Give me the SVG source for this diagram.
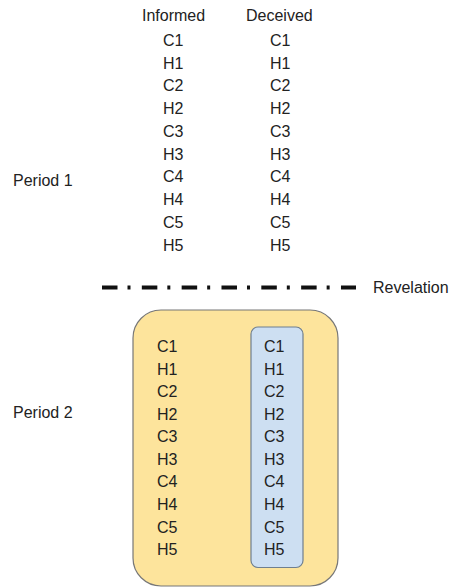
<svg xmlns="http://www.w3.org/2000/svg" width="450" height="588" viewBox="0 0 450 588">
<style>
text{font-family:"Liberation Sans",Arial,sans-serif;font-size:16px;fill:#222}
.outer{fill:#fde49c;stroke:#777;stroke-width:1.2}
.inner{fill:#cddff2;stroke:#6f7f8f;stroke-width:1.2}
.rev{stroke:#111;stroke-width:4;fill:none;stroke-dasharray:15.5 10 3 11.33}
</style>
<rect width="450" height="588" fill="#fff"/>
<g id="period1">
<text x="13" y="186">Period 1</text>
<g id="p1-informed">
<text x="142" y="20.5">Informed</text>
<text x="163" y="46">C1</text><text x="163" y="68.7">H1</text><text x="163" y="91.4">C2</text><text x="163" y="114.2">H2</text><text x="163" y="136.9">C3</text><text x="163" y="159.6">H3</text><text x="163" y="182.3">C4</text><text x="163" y="205">H4</text><text x="163" y="227.8">C5</text><text x="163" y="250.5">H5</text>
</g>
<g id="p1-deceived">
<text x="246" y="20.5">Deceived</text>
<text x="270" y="46">C1</text><text x="270" y="68.7">H1</text><text x="270" y="91.4">C2</text><text x="270" y="114.2">H2</text><text x="270" y="136.9">C3</text><text x="270" y="159.6">H3</text><text x="270" y="182.3">C4</text><text x="270" y="205">H4</text><text x="270" y="227.8">C5</text><text x="270" y="250.5">H5</text>
</g>
</g>
<g id="revelation">
<line class="rev" x1="102" y1="287.5" x2="356" y2="287.5"/>
<text x="373" y="293">Revelation</text>
</g>
<g id="period2">
<text x="13" y="418">Period 2</text>
<rect id="p2-box" class="outer" x="133" y="310" width="205" height="276" rx="28" ry="28"/>
<g id="p2-informed">
<text x="157" y="352">C1</text><text x="157" y="374.6">H1</text><text x="157" y="397.1">C2</text><text x="157" y="419.7">H2</text><text x="157" y="442.2">C3</text><text x="157" y="464.8">H3</text><text x="157" y="487.4">C4</text><text x="157" y="509.9">H4</text><text x="157" y="532.5">C5</text><text x="157" y="555">H5</text>
</g>
<g id="p2-deceived">
<rect class="inner" x="251" y="327" width="52" height="240.5" rx="7" ry="7"/>
<text x="264" y="352">C1</text><text x="264" y="374.6">H1</text><text x="264" y="397.1">C2</text><text x="264" y="419.7">H2</text><text x="264" y="442.2">C3</text><text x="264" y="464.8">H3</text><text x="264" y="487.4">C4</text><text x="264" y="509.9">H4</text><text x="264" y="532.5">C5</text><text x="264" y="555">H5</text>
</g>
</g>
</svg>
